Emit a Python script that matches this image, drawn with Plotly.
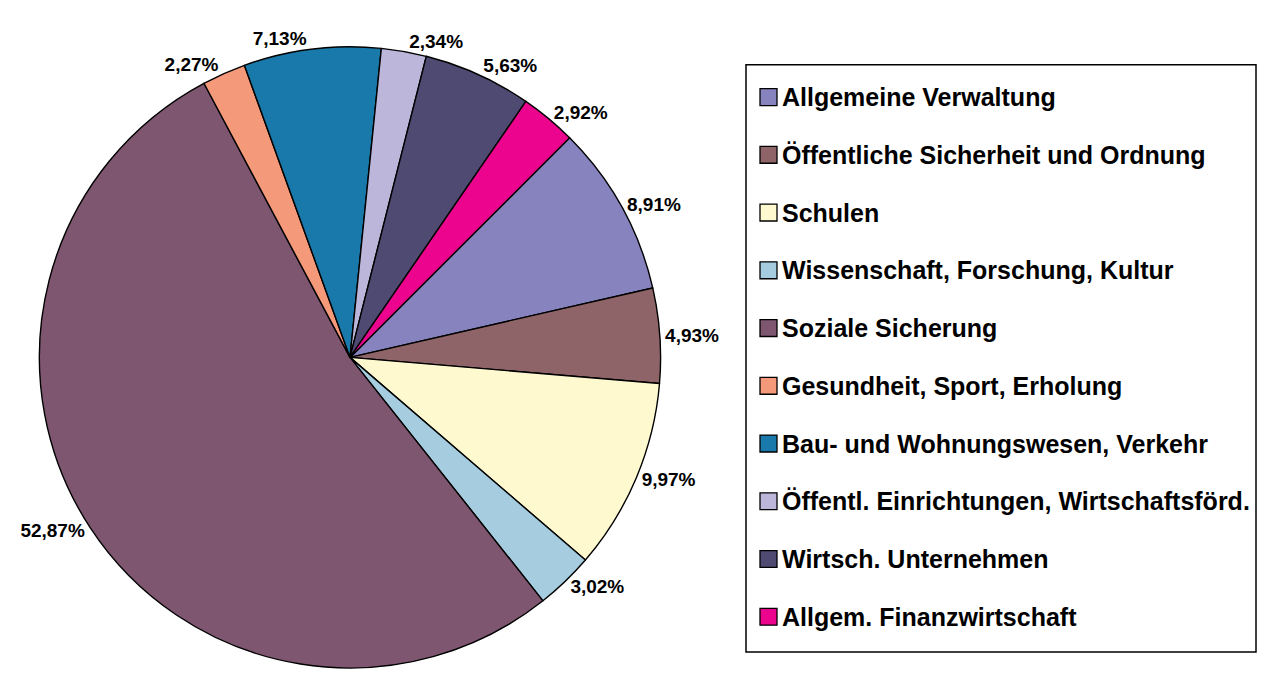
import plotly.graph_objects as go

categories = [
    "Allgemeine Verwaltung",
    "Öffentliche Sicherheit und Ordnung",
    "Schulen",
    "Wissenschaft, Forschung, Kultur",
    "Soziale Sicherung",
    "Gesundheit, Sport, Erholung",
    "Bau- und Wohnungswesen, Verkehr",
    "Öffentl. Einrichtungen, Wirtschaftsförd.",
    "Wirtsch. Unternehmen",
    "Allgem. Finanzwirtschaft",
]
shares = [8.91, 4.93, 9.97, 3.02, 52.87, 2.27, 7.13, 2.34, 5.63, 2.92]
colors = ["#8783BF", "#8F6468", "#FFF9CF", "#A5CDDF", "#7F5670",
          "#F4997A", "#1A79AB", "#BBB6DA", "#4F4A72", "#EC038E"]

labels_txt = [f"{v:.2f}".replace(".", ",") + "%" for v in shares]

W, H = 1263, 673
cx, cy, r = 350, 359, 312
FONT = "Arial, Liberation Sans, sans-serif"

fig = go.Figure()
fig.add_trace(go.Pie(
    labels=categories,
    values=shares,
    text=labels_txt,
    textinfo="text",
    textposition="outside",
    textfont=dict(family=FONT, size=19, color="black", weight="bold"),
    marker=dict(colors=colors, line=dict(color="black", width=1.4)),
    sort=False,
    direction="clockwise",
    rotation=45,
    showlegend=False,
    hoverinfo="label+text",
    domain=dict(x=[(cx - r) / W, (cx + r) / W], y=[1 - (cy + r) / H, 1 - (cy - r) / H]),
))

# Manual legend
lx0, ly0, lx1, ly1 = 746, 65, 1256, 655
shapes = [dict(type="rect", xref="paper", yref="paper",
               x0=lx0 / W, x1=lx1 / W, y0=1 - ly1 / H, y1=1 - ly0 / H,
               line=dict(color="black", width=1.5), fillcolor="white", layer="below")]
annotations = []
step = 58
for i, (name, col) in enumerate(zip(categories, colors)):
    yc = 97.5 + i * step
    shapes.append(dict(type="rect", xref="paper", yref="paper",
                       x0=760 / W, x1=777 / W, y0=1 - (yc + 8.5) / H, y1=1 - (yc - 8.5) / H,
                       line=dict(color="black", width=1.3), fillcolor=col))
    annotations.append(dict(xref="paper", yref="paper", x=780 / W, y=1 - yc / H,
                            text=name, showarrow=False, xanchor="left", yanchor="middle",
                            font=dict(family=FONT, size=25, color="black", weight="bold")))

fig.update_layout(
    width=W, height=H,
    margin=dict(l=0, r=0, t=0, b=0),
    paper_bgcolor="white",
    plot_bgcolor="white",
    shapes=shapes,
    annotations=annotations,
)

fig.write_html("out.html", config={"displayModeBar": False},
               post_script="document.body.style.margin='0';")
